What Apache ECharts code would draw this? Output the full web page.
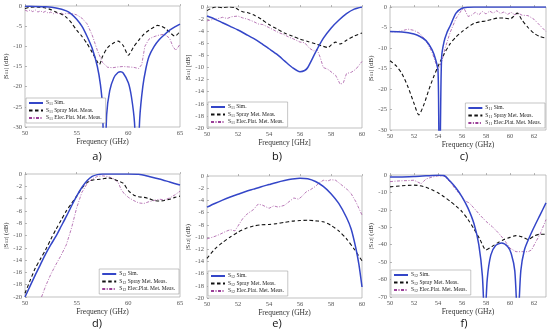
<!DOCTYPE html>
<html><head><meta charset="utf-8">
<script src="https://cdn.jsdelivr.net/npm/echarts@6/dist/echarts.min.js"></script>
<style>html,body{margin:0;padding:0;background:#fff}#c{width:550px;height:334px}</style>
</head><body><div id="c"></div>
<script>
// ---------- Panel a) |S11| ----------
const aSimX = [50,51,52,53,54,54.5,55,55.5,56,56.5,57,57.3,57.5,57.7,57.9,58.2,58.6,59,59.25,59.5,60,60.3,60.6,60.85,61.1,61.4,61.7,62,62.5,63,63.5,64,64.5,65];
const aSim  = [-0.05,-0.1,-0.2,-0.5,-1.2,-2,-3.3,-5,-7.5,-10.5,-15,-19.5,-25,-45,-27,-21,-17.8,-16.5,-16.3,-16.6,-19,-22.5,-29,-45,-28,-20,-15.5,-12.5,-10,-8.3,-7.1,-6,-5.2,-4.5];
const aSprayX = [50,50.5,51,51.5,52,52.5,53,53.5,54,54.5,55,55.5,56,56.5,57,57.2,57.5,58,58.5,59,59.5,60,60.5,61,61.5,62,62.5,62.8,63.2,63.6,64,64.5,65];
const aSpray  = [-0.6,-0.3,-0.2,-0.3,-0.5,-0.9,-1.5,-2,-2.8,-4.2,-6,-7.5,-9.3,-11.5,-13.8,-14.5,-12.5,-10.3,-9.3,-8.7,-9.8,-12.2,-10.2,-8.5,-7,-6,-5.2,-4.8,-5,-5.6,-6.5,-7.5,-6.3];
const aElecX = [50,50.25,50.5,50.75,51,51.25,51.5,51.75,52,52.25,52.5,52.75,53,53.25,53.5,53.75,54,54.25,54.5,54.75,55,55.5,56,56.5,57,57.5,58,58.5,59,59.5,60,60.5,61,61.3,61.6,62,62.3,62.6,63,63.5,64,64.3,64.6,65];
const aElec  = [-1,-1.3,-1,-1.4,-1,-1.5,-1.2,-1.6,-1.3,-1.8,-1.5,-1.9,-1.6,-2.0,-1.7,-2.1,-1.8,-1.9,-1.9,-2.0,-2.2,-3,-4.4,-7.2,-11,-14,-15.2,-15.3,-15.1,-15,-15.1,-15.2,-15.5,-14.5,-10,-8.2,-7.8,-7.5,-7.2,-7,-8,-10,-11,-9.5];

// ---------- Panel b) |S11| ----------
const bSimX = [50,50.5,51,51.5,52,52.5,53,53.5,54,54.5,55,55.5,56,56.3,56.5,57,57.5,58,58.5,59,59.5,60];
const bSim  = [-1.5,-2.0,-2.6,-3.2,-3.8,-4.5,-5.2,-6.0,-6.9,-7.8,-8.9,-10,-10.7,-10.5,-10,-7.5,-5.2,-3.5,-2.2,-1.1,-0.35,0];
const bSprayX = [50,50.3,50.6,51,51.4,51.8,52,52.3,52.6,53,53.5,54,54.5,55,55.5,56,56.5,57,57.5,57.8,58,58.3,58.6,59,59.5,60];
const bSpray  = [-0.6,-0.2,0,-0.1,0,-0.1,-0.4,-0.8,-0.9,-1.3,-2.0,-2.9,-3.6,-4.3,-4.8,-5.3,-5.7,-6.1,-6.5,-6.7,-6.3,-5.8,-6.1,-5.5,-4.8,-4.3];
const bElecX = [50,50.3,50.6,51,51.3,51.6,52,52.3,52.6,53,53.3,53.6,54,54.3,54.6,55,55.3,55.6,56,56.3,56.6,56.9,57.1,57.3,57.5,57.8,58,58.3,58.6,58.8,59,59.3,59.6,60];
const bElec  = [-2.3,-2.1,-2.0,-1.7,-1.9,-1.6,-1.5,-1.8,-2.0,-2.4,-2.8,-2.9,-3.4,-3.8,-4.2,-4.6,-5.0,-5.3,-5.8,-5.9,-6.8,-7.3,-7.0,-8.3,-10.0,-10.3,-10.7,-11.3,-12.8,-12.5,-11.0,-10.8,-10.3,-9.0];

// ---------- Panel c) |S11| ----------
const cSimX = [50,51,52,52.5,53,53.5,53.8,54,54.07,54.13,54.2,54.3,54.5,54.75,55,55.5,56,56.5,57,58,60,63];
const cSim  = [-6,-6.1,-6.6,-7.2,-8.2,-10.4,-12.8,-15.5,-30,-45,-30,-12.3,-8.5,-6.2,-4.7,-1.5,-0.3,-0.05,0,0,0,0];
const cSprayX = [50,50.5,51,51.5,52,52.4,52.8,53.2,53.6,54,54.5,55,55.5,56,56.5,57,57.5,58,58.5,59,59.5,60,60.3,60.6,61,61.5,62,62.5,63];
const cSpray  = [-13.1,-14.3,-16.3,-19.5,-23.5,-26.3,-24,-20.5,-17.3,-14.5,-11.5,-9,-7.3,-6,-4.9,-4,-3.6,-3.4,-3,-2.7,-2.7,-2.9,-2.3,-1.5,-3.2,-5,-6.4,-7.2,-7.6];
const cElecX = [50,50.5,51,51.5,52,52.5,53,53.5,54,54.3,54.6,55,55.5,56,56.2,56.5,56.8,57.1,57.4,57.7,58,58.3,58.6,58.9,59.2,59.5,59.8,60.1,60.4,60.7,61,61.5,62,62.5,63];
const cElec  = [-6,-6.1,-5.8,-5.4,-5.7,-6.5,-8.2,-11,-15.3,-13.5,-10,-6.3,-2.8,-0.6,-0.5,-2.3,-2.0,-1.3,-1.9,-1.1,-1.7,-1.0,-1.5,-0.9,-1.6,-1.2,-1.8,-1.3,-1.9,-1.5,-2.0,-2.1,-3.0,-4.5,-6.0];

// ---------- Panel d) |S12| ----------
const dSimX = [50,50.5,51,51.5,52,52.5,53,53.5,54,54.5,55,55.5,56,56.5,57,57.5,58,59,60,61,62,63,64,65];
const dSim  = [-20,-18.2,-16.4,-14.7,-13,-11.5,-10.1,-8.5,-6.9,-5.2,-3.6,-2.2,-1.1,-0.4,-0.1,0,0,0,0,-0.05,-0.4,-0.8,-1.3,-1.8];
const dSprayX = [50,50.5,51,51.5,52,52.5,53,53.5,54,54.5,55,55.5,56,56.5,57,57.5,58,58.5,59,59.5,60,60.5,61,61.5,62,62.5,63,63.5,64,64.5,65];
const dSpray  = [-19.4,-17.3,-15.3,-13.8,-12.3,-10.6,-9,-7.5,-6,-4.8,-3.6,-2.3,-1.4,-1.0,-0.9,-0.8,-0.65,-0.8,-1.1,-1.5,-2.7,-3.4,-3.7,-3.8,-4.0,-4.3,-4.4,-4.3,-4.1,-3.8,-3.6];
const dElecX = [51.6,52,52.5,53,53.5,54,54.5,55,55.5,56,56.5,57,57.5,58,58.5,59,59.3,59.6,60,60.5,61,61.5,62,62.5,63,63.5,64,64.5,65];
const dElec  = [-20,-18.2,-16.3,-14.7,-13.2,-11.5,-8.8,-5.5,-3,-1.6,-0.8,-0.4,-0.3,-0.4,-0.7,-1.3,-2.5,-3.2,-3.8,-4.3,-4.7,-4.8,-4.5,-4.3,-4.1,-4.2,-3.9,-3.4,-2.8];

// ---------- Panel e) |S12| ----------
const eSimX = [50,50.5,51,51.5,52,52.5,53,53.5,54,54.5,55,55.5,56,56.5,57,57.5,58,58.5,59,59.3,59.6,59.8,60];
const eSim  = [-5.1,-4.5,-3.95,-3.45,-3.0,-2.55,-2.15,-1.75,-1.4,-1.05,-0.75,-0.5,-0.35,-0.45,-0.9,-1.7,-2.9,-4.5,-6.8,-8.7,-11.8,-14.5,-18.2];
const eSprayX = [50,50.5,51,51.5,52,52.5,53,53.5,54,54.5,55,55.5,56,56.5,57,57.5,58,58.5,59,59.5,60];
const eSpray  = [-13.5,-12,-10.9,-10,-9.2,-8.6,-8.2,-8,-7.95,-7.8,-7.6,-7.4,-7.3,-7.25,-7.35,-7.5,-8.1,-9,-10.3,-12,-13.9];
const eElecX = [50,50.4,50.8,51.2,51.5,51.8,52,52.3,52.6,53,53.3,53.6,54,54.3,54.6,55,55.3,55.6,55.9,56.1,56.4,56.7,57,57.2,57.5,57.8,58,58.3,58.6,59,59.3,59.6,60];
const eElec  = [-10.3,-10,-9.6,-9.1,-8.8,-9.0,-8.2,-7,-6.2,-5.5,-4.6,-4.8,-5.3,-4.9,-5.1,-4.8,-4.2,-3.6,-3.8,-3.4,-2.6,-2.2,-1.7,-1.2,-0.7,-0.8,-0.6,-0.7,-1.3,-2.1,-2.9,-4.2,-6.4];

// ---------- Panel f) |S12| ----------
const fSimX = [50,51,52,53,54,54.5,55,55.5,56,56.5,57,57.4,57.7,57.9,58.1,58.4,58.8,59.3,59.8,60.1,60.4,60.65,60.9,61.2,61.6,62,62.5,63];
const fSim  = [-1.2,-1.1,-0.9,-0.5,-0.1,-0.3,-3.5,-7.5,-12.5,-19,-28,-40,-58,-85,-60,-46,-40.5,-39,-41,-45,-55,-85,-55,-43,-36,-30,-23,-16];
const fSprayX = [50,51,52,52.5,53,53.5,54,54.5,55,55.5,56,56.5,57,57.5,58,58.5,59,59.5,60,60.5,61,61.5,62,62.5,63];
const fSpray  = [-6.8,-6.2,-5.8,-6.2,-7.0,-8.5,-10.2,-12.5,-15,-17.8,-21,-25.5,-31,-37,-43,-41,-38.8,-37,-35.8,-34.8,-35.5,-37,-35,-34,-34];
const fElecX = [50,50.5,51,51.5,52,52.3,52.6,53,53.5,54,54.5,55,55.5,56,56.3,56.6,57,57.5,58,58.5,59,59.5,60,60.5,61,61.5,61.8,62.1,62.5,63];
const fElec  = [-3.8,-3.5,-3.3,-3.2,-3,-4,-5,-2.3,-1.2,-0.5,-0.6,-4,-8.5,-12.5,-15,-16,-19,-23,-26.6,-29.5,-33,-37,-42,-44,-44,-44,-43,-39,-34,-25.6];

// ---------- labels ----------
const panelLabels = ['a)','b)','c)','d)','e)','f)'];
const xAxisTitles = ['Frequency (GHz)','Frequency [GHz]','Frequency (GHz)','Frequency (GHz)','Frequency (GHz)','Frequency (GHz)'];
const yUnitTitles = ['(dB)','[dB]','(dB)','(dB)','(dB)','(dB)'];
const seriesKinds = ['Sim.','Spray Met. Meas.','Elec.Plat. Met. Meas.'];

const zip = (xs, ys) => xs.map((x, i) => [x, ys[i]]);

const panels = [
  {grid:{left:25,top:6,width:155,height:121}, xMin:50,xMax:65,xInt:5,yMin:-30,yInt:5,sub:'11',
   data:[[aSimX,aSim],[aSprayX,aSpray],[aElecX,aElec]], legend:{left:26,top:98}, lab:[92,156]},
  {grid:{left:207,top:7,width:155,height:121}, xMin:50,xMax:60,xInt:2,yMin:-20,yInt:2,sub:'11',
   data:[[bSimX,bSim],[bSprayX,bSpray],[bElecX,bElec]], legend:{left:208,top:102}, lab:[272,156]},
  {grid:{left:390,top:7,width:156,height:123}, xMin:50,xMax:63,xInt:2,yMin:-30,yInt:5,sub:'11',
   data:[[cSimX,cSim],[cSprayX,cSpray],[cElecX,cElec]], legend:{right:5,top:103}, lab:[459,156]},
  {grid:{left:25,top:174,width:155,height:123}, xMin:50,xMax:65,xInt:5,yMin:-20,yInt:2,sub:'12',
   data:[[dSimX,dSim],[dSprayX,dSpray],[dElecX,dElec]], legend:{right:371,top:269}, lab:[92,323]},
  {grid:{left:207,top:176,width:155,height:122}, xMin:50,xMax:60,xInt:2,yMin:-20,yInt:2,sub:'12',
   data:[[eSimX,eSim],[eSprayX,eSpray],[eElecX,eElec]], legend:{left:208,top:271}, lab:[272,323]},
  {grid:{left:390,top:175,width:156,height:122}, xMin:50,xMax:63,xInt:2,yMin:-70,yInt:10,sub:'12',
   data:[[fSimX,fSim],[fSprayX,fSpray],[fElecX,fElec]], legend:{left:391,top:270}, lab:[459,323]}
];

const styles = [
  {color:'#3446c8', width:1.5, type:'solid'},
  {color:'#111111', width:1.1, type:[3.5,2.5]},
  {color:'#9b3f98', width:0.7, type:[3,1.5,1,1.5]}
];

const serif = 'Liberation Serif';
const grids=[], xAxes=[], yAxes=[], series=[], legends=[], titles=[];
panels.forEach((p, i) => {
  grids.push(Object.assign({show:true, borderColor:'#a8a8a8', borderWidth:0.7, backgroundColor:'#fff'}, p.grid));
  xAxes.push({type:'value', gridIndex:i, min:p.xMin, max:p.xMax, interval:p.xInt,
    name:xAxisTitles[i], nameLocation:'middle', nameGap:11,
    nameTextStyle:{fontFamily:serif, fontSize:7.5, color:'#333'},
    axisLine:{show:false}, splitLine:{show:false},
    axisTick:{inside:true, length:2, lineStyle:{color:'#888', width:0.6}},
    axisLabel:{fontFamily:serif, fontSize:6.5, color:'#555', margin:3, showMaxLabel: p.xMax % p.xInt === 0}});
  yAxes.push({type:'value', gridIndex:i, min:p.yMin, max:0, interval:p.yInt,
    name:'|S{s|' + p.sub + '}| ' + yUnitTitles[i], nameLocation:'middle', nameGap:15,
    nameTextStyle:{fontFamily:serif, fontSize:7, color:'#333',
      rich:{s:{fontFamily:serif, fontSize:5, color:'#333', verticalAlign:'bottom'}}},
    axisLine:{show:false}, splitLine:{show:false},
    axisTick:{inside:true, length:2, lineStyle:{color:'#888', width:0.6}},
    axisLabel:{fontFamily:serif, fontSize:6.5, color:'#555', margin:3}});
  const names = seriesKinds.map(k => 'S' + p.sub + ' ' + k);
  p.data.forEach((d, k) => {
    series.push({type:'line', name:names[k], xAxisIndex:i, yAxisIndex:i, data:zip(d[0], d[1]),
      symbol:'none', smooth: k === 2 ? false : 0.25, clip:true, z: 3 - k,
      lineStyle:{color:styles[k].color, width:styles[k].width, type:styles[k].type},
      itemStyle:{color:styles[k].color}});
  });
  legends.push(Object.assign({data:names, orient:'vertical', itemGap:1.5, itemWidth:14, itemHeight:5,
    padding:[2,4,2,2], backgroundColor:'#fff', borderColor:'#a0a0a0', borderWidth:0.6,
    selectedMode:false, itemStyle:{opacity:0},
    formatter: n => { const parts = n.split(' '); return '{m|S}{s|' + parts[0].slice(1) + '}{m| ' + parts.slice(1).join(' ') + '}'; },
    textStyle:{fontFamily:serif, fontSize:5.5, color:'#222', padding:[0,0,0,-2],
      rich:{m:{fontFamily:serif, fontSize:5.5, color:'#222'}, s:{fontFamily:serif, fontSize:4, color:'#222', verticalAlign:'bottom'}}}
  }, p.legend));
  titles.push({text:panelLabels[i], left:p.lab[0], top:p.lab[1] - 4, textAlign:'center', textVerticalAlign:'middle',
    textStyle:{fontFamily:'Open Sans', fontSize:11, fontWeight:'normal', color:'#111'}});
});

const chart = echarts.init(document.getElementById('c'), null, {renderer:'canvas'});
chart.setOption({animation:false, backgroundColor:'#fff', title:titles, grid:grids, xAxis:xAxes, yAxis:yAxes, legend:legends, series:series});
</script></body></html>
